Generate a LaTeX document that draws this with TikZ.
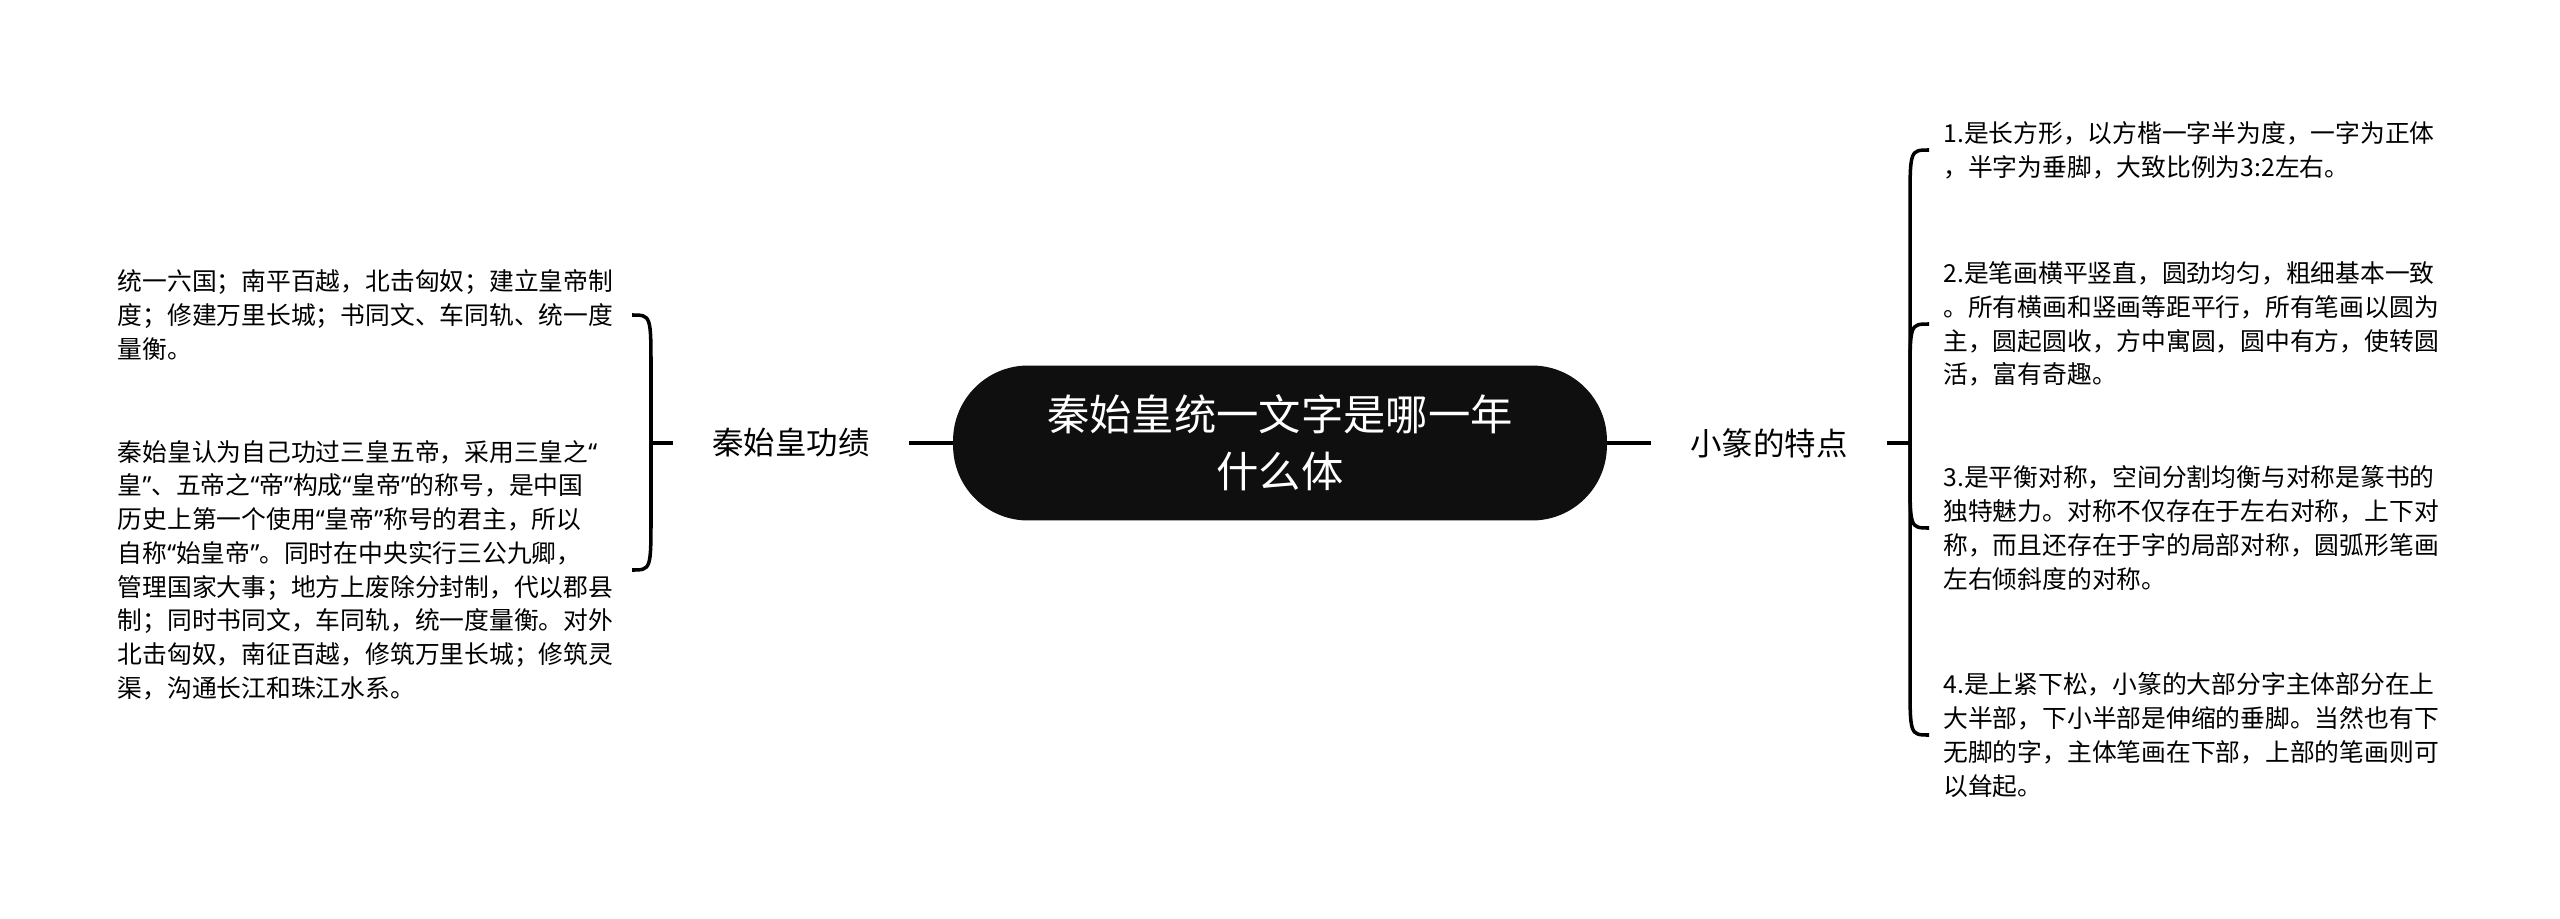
\documentclass[tikz,border=0pt]{standalone}
\usepackage{fontspec}
\setmainfont{Noto Sans CJK SC}
\newfontfamily\latinq{Noto Sans}
\newcommand{\qo}{{\latinq “}}
\newcommand{\qc}{{\latinq ”}}
\usetikzlibrary{calc}

\definecolor{rootc}{HTML}{0F0F0F}

\tikzset{
  root/.style={fill=rootc, text=white, rounded corners=1.5cm,
    minimum width=13.08cm, minimum height=3.1cm, align=center,
    font=\fontsize{24.1}{32.3}\selectfont},
  topic/.style={inner xsep=0.78cm, inner ysep=0pt,
    font=\fontsize{17.9}{22}\selectfont},
  leaf/.style={text width=10cm, align=left, inner xsep=0.28cm, inner ysep=0pt,
    font=\fontsize{14.1}{19.2}\selectfont},
  link/.style={line width=2pt},
}

\begin{document}
\begin{tikzpicture}[x=0.02cm, y=-0.02cm]

\fill[white] (0,0) rectangle (2560,919);

\coordinate (lfork) at (651,443);
\coordinate (rfork) at (1910,443);

\node[root] (root) at (1280,443) {秦始皇统一文字是哪一年\\什么体};

\node[topic] (lgroup) at (791,443) {秦始皇功绩};
\node[topic] (rgroup) at (1769,443) {小篆的特点};

% left leaves
\node[leaf, anchor=east] (l1) at (632,315) {统一六国；南平百越，北击匈奴；建立皇帝制\\
度；修建万里长城；书同文、车同轨、统一度\\
量衡。};
\node[leaf, anchor=east] (l2) at (632,570) {秦始皇认为自己功过三皇五帝，采用三皇之\qo\\
皇\qc、五帝之\qo 帝\qc 构成\qo 皇帝\qc 的称号，是中国\\
历史上第一个使用\qo 皇帝\qc 称号的君主，所以\\
自称\qo 始皇帝\qc。同时在中央实行三公九卿，\\
管理国家大事；地方上废除分封制，代以郡县\\
制；同时书同文，车同轨，统一度量衡。对外\\
北击匈奴，南征百越，修筑万里长城；修筑灵\\
渠，沟通长江和珠江水系。};

% right leaves
\node[leaf, anchor=west] (r1) at (1929,150) {1.是长方形，以方楷一字半为度，一字为正体\\
，半字为垂脚，大致比例为3:2左右。};
\node[leaf, anchor=west] (r2) at (1929,324) {2.是笔画横平竖直，圆劲均匀，粗细基本一致\\
。所有横画和竖画等距平行，所有笔画以圆为\\
主，圆起圆收，方中寓圆，圆中有方，使转圆\\
活，富有奇趣。};
\node[leaf, anchor=west] (r3) at (1929,528) {3.是平衡对称，空间分割均衡与对称是篆书的\\
独特魅力。对称不仅存在于左右对称，上下对\\
称，而且还存在于字的局部对称，圆弧形笔画\\
左右倾斜度的对称。};
\node[leaf, anchor=west] (r4) at (1929,735) {4.是上紧下松，小篆的大部分字主体部分在上\\
大半部，下小半部是伸缩的垂脚。当然也有下\\
无脚的字，主体笔画在下部，上部的笔画则可\\
以耸起。};

\draw[link] (root.west) -- (lgroup.east);
\draw[link] (lgroup.west) -- (lfork);
\draw[link] (root.east) -- (rgroup.west);
\draw[link] (rgroup.east) -- (rfork);

\foreach \leaf/\s in {l1/1, l2/-1}
  \draw[link] (lfork) -- ($(lfork |- \leaf.east)+(0,\s*55)$)
    .. controls (lfork |- \leaf.east) .. (\leaf.east);

\foreach \leaf/\s in {r1/1, r2/1, r3/-1, r4/-1}
  \draw[link] (rfork) -- ($(rfork |- \leaf.west)+(0,\s*55)$)
    .. controls (rfork |- \leaf.west) .. (\leaf.west);

\end{tikzpicture}
\end{document}
